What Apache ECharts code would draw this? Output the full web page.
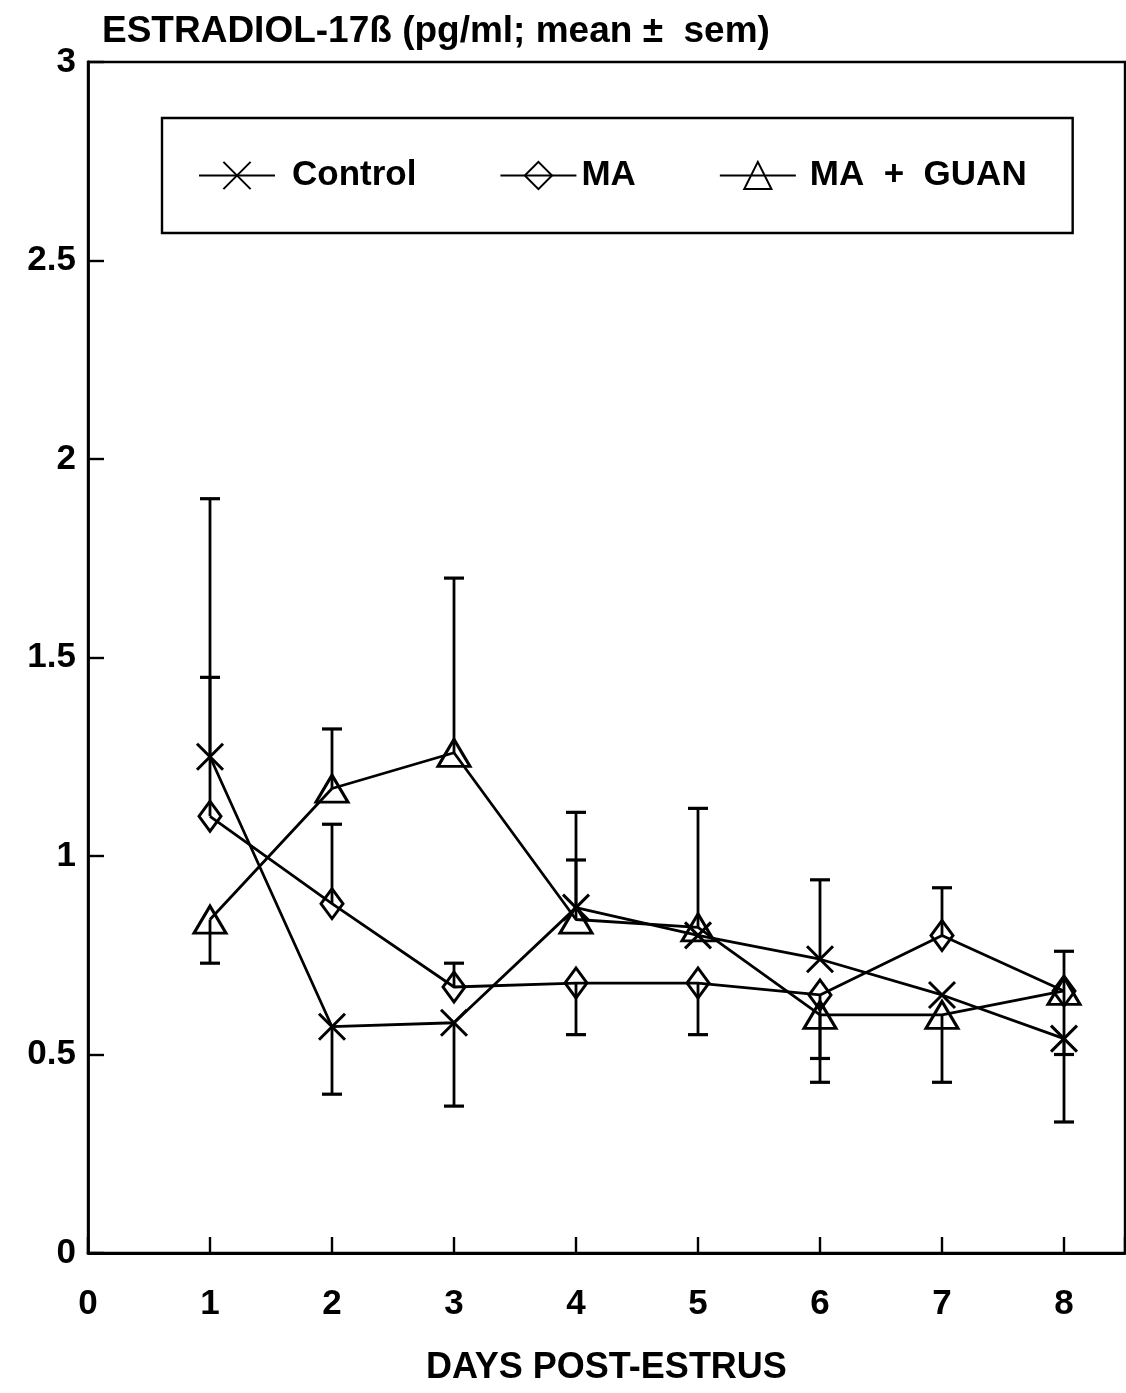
<!DOCTYPE html>
<html>
<head>
<meta charset="utf-8">
<script src="https://cdn.jsdelivr.net/npm/echarts@6/dist/echarts.min.js"></script>
<style>
html,body{margin:0;padding:0;background:#fff;}
#chart{width:1126px;height:1393px;}
</style>
</head>
<body>
<div id="chart"></div>
<script>
// ---- data ----
const days = [1, 2, 3, 4, 5, 6, 7, 8];
const seriesNames = ['Control', 'MA', 'MA + GUAN'];
const controlMean = [1.25, 0.57, 0.58, 0.87, 0.80, 0.74, 0.65, 0.54];
const controlErrEnd = [1.45, 0.40, 0.37, 0.99, null, 0.94, null, 0.33];
const maMean = [1.10, 0.88, 0.67, 0.68, 0.68, 0.65, 0.80, 0.66];
const maErrEnd = [1.90, 1.08, 0.73, 0.55, 0.55, 0.43, 0.92, 0.50];
const guanMean = [0.84, 1.17, 1.26, 0.84, 0.82, 0.60, 0.60, 0.66];
const guanErrEnd = [0.73, 1.32, 1.70, 1.11, 1.12, 0.49, 0.43, 0.76];
const xTickLabels = ['0', '1', '2', '3', '4', '5', '6', '7', '8'];
const yTickLabels = ['0', '0.5', '1', '1.5', '2', '2.5', '3'];

const FONT = '"Liberation Sans", Arial, Helvetica, sans-serif';
const LW = 2.8;

function pairs(means) { return days.map((d, i) => [d, means[i]]); }
function errRows(means, ends) {
  const rows = [];
  days.forEach((d, i) => { if (ends[i] != null) rows.push([d, means[i], ends[i]]); });
  return rows;
}
function errSeries(means, ends) {
  return {
    type: 'custom',
    z: 1,
    silent: true,
    data: errRows(means, ends),
    renderItem: function (params, api) {
      const x = api.value(0), y = api.value(1), e = api.value(2);
      const p1 = api.coord([x, y]);
      const p2 = api.coord([x, e]);
      const cap = 10;
      const st = { stroke: '#000', lineWidth: LW };
      return {
        type: 'group',
        children: [
          { type: 'line', shape: { x1: p1[0], y1: p1[1], x2: p2[0], y2: p2[1] }, style: st },
          { type: 'line', shape: { x1: p2[0] - cap, y1: p2[1], x2: p2[0] + cap, y2: p2[1] }, style: { stroke: '#000', lineWidth: 3.2 } }
        ]
      };
    }
  };
}
function lineSeries(name, means, symbol, size) {
  return {
    name: name,
    type: 'line',
    z: 3,
    data: pairs(means),
    symbol: symbol,
    symbolSize: size,
    showSymbol: true,
    symbolKeepAspect: false,
    lineStyle: { color: '#000', width: LW },
    itemStyle: { color: 'rgba(255,255,255,0)', borderColor: '#000', borderWidth: 3 },
    emphasis: { disabled: true },
    animation: false
  };
}

const legendTextBase = { fontFamily: FONT, fontWeight: 'bold', fontSize: 35, color: '#000' };

const chart = echarts.init(document.getElementById('chart'), null, { renderer: 'canvas' });
chart.setOption({
  animation: false,
  backgroundColor: '#fff',
  title: {
    text: 'ESTRADIOL-17ß (pg/ml; mean ±  sem)',
    left: 97, top: 8,
    textStyle: { fontFamily: FONT, fontWeight: 'bold', fontSize: 37, color: '#000' }
  },
  legend: {
    data: [
      { name: seriesNames[0], textStyle: Object.assign({}, legendTextBase, { padding: [0, 0, 0, 12] }) },
      { name: seriesNames[1], textStyle: Object.assign({}, legendTextBase, { padding: [0, 0, 0, 0] }) },
      { name: seriesNames[2], textStyle: Object.assign({}, legendTextBase, { padding: [0, 0, 0, 9] }) }
    ],
    formatter: function (name) { return name.replace(' + ', '  +  '); },
    left: 162, top: 118,
    orient: 'horizontal',
    borderColor: '#000', borderWidth: 2.4,
    padding: [40, 46, 40, 36],
    itemWidth: 76, itemHeight: 34,
    itemGap: 83,
    textStyle: legendTextBase,
    selectedMode: false
  },
  grid: {
    left: 88, right: 1, top: 62, bottom: 140,
    show: true, borderColor: '#000', borderWidth: 2.4,
    containLabel: false,
    outerBoundsMode: 'none'
  },
  xAxis: {
    type: 'value', min: 0, max: 8.5, interval: 1,
    axisLine: { show: true, lineStyle: { color: '#000', width: 2.8 } },
    axisTick: { show: true, inside: true, length: 16, lineStyle: { color: '#000', width: 2.4 } },
    splitLine: { show: false },
    axisLabel: {
      margin: 34, color: '#000', fontFamily: FONT, fontWeight: 'bold', fontSize: 35,
      formatter: function (v) { return Number.isInteger(v) ? xTickLabels[v] : ''; }
    },
    name: 'DAYS POST-ESTRUS', nameLocation: 'middle', nameGap: 97,
    nameTextStyle: { fontFamily: FONT, fontWeight: 'bold', fontSize: 36, color: '#000' }
  },
  yAxis: {
    type: 'value', min: 0, max: 3, interval: 0.5,
    axisLine: { show: true, lineStyle: { color: '#000', width: 2.8 } },
    axisTick: { show: true, inside: true, length: 16, lineStyle: { color: '#000', width: 2.4 } },
    splitLine: { show: false },
    axisLabel: {
      margin: 12, color: '#000', fontFamily: FONT, fontWeight: 'bold', fontSize: 35,
      formatter: function (v) { const i = Math.round(v / 0.5); return yTickLabels[i]; }
    }
  },
  series: [
    errSeries(controlMean, controlErrEnd),
    errSeries(maMean, maErrEnd),
    errSeries(guanMean, guanErrEnd),
    lineSeries('Control', controlMean, 'path://M0,0L10,10M10,0L0,10', [26, 26]),
    lineSeries('MA', maMean, 'path://M5,0L10,7L5,14L0,7Z', [22, 30]),
    lineSeries('MA + GUAN', guanMean, 'path://M5,0L10,8.5L0,8.5Z', [32, 27])
  ]
});
</script>
</body>
</html>
